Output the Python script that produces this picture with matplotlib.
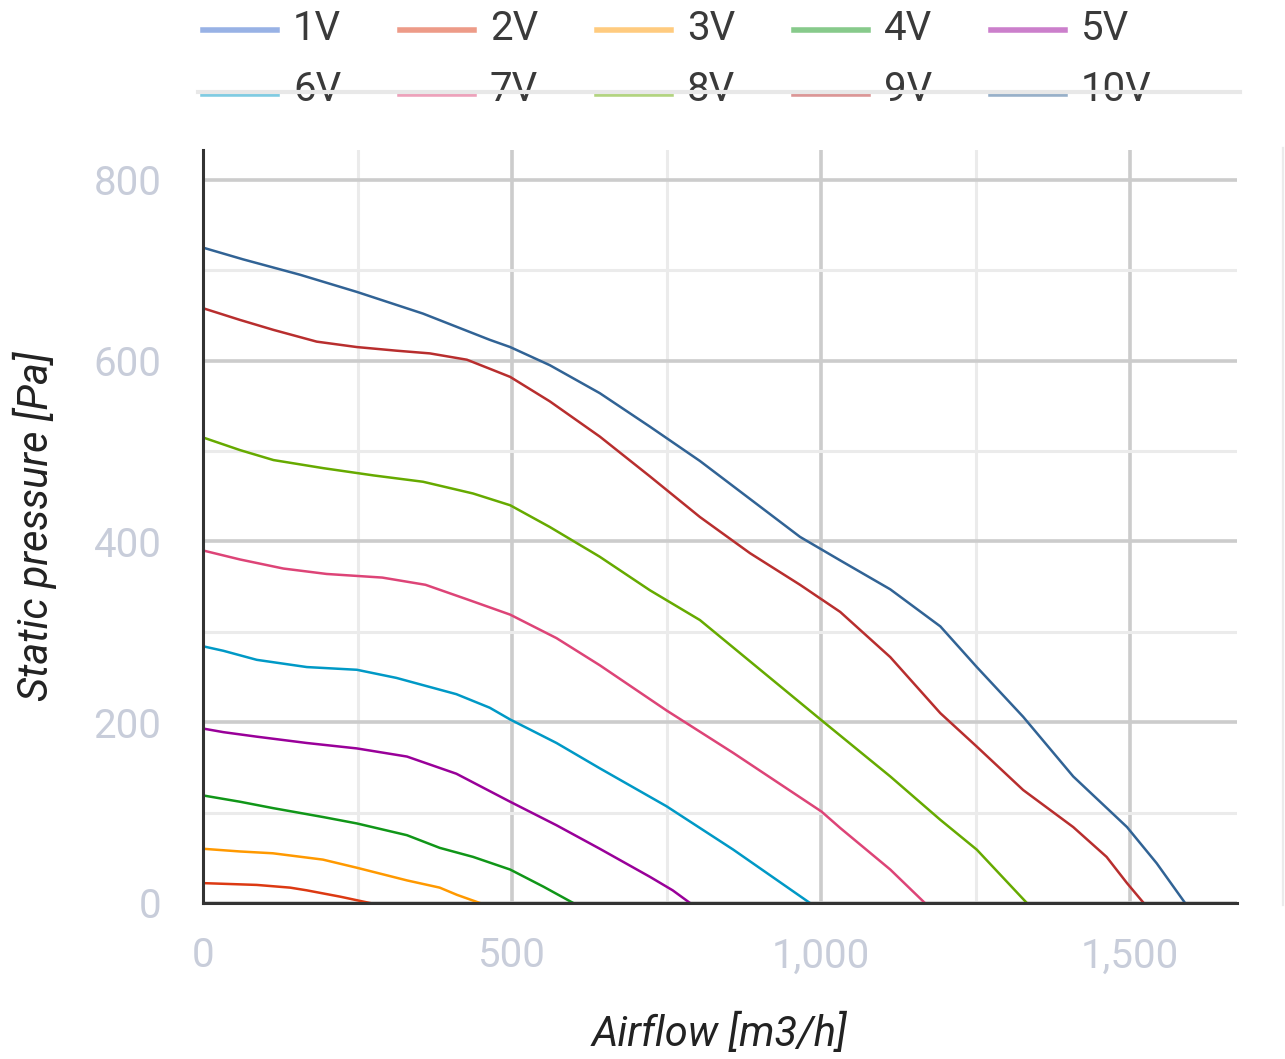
import numpy as np
import matplotlib.pyplot as plt
from matplotlib.lines import Line2D
from matplotlib.ticker import FuncFormatter, MultipleLocator

plt.rcParams['font.family'] = ['Roboto', 'DejaVu Sans']

labels = ["1V", "2V", "3V", "4V", "5V", "6V", "7V", "8V", "9V", "10V"]
colors = ["#3366cc", "#dc3912", "#ff9900", "#109618", "#990099",
          "#0099c6", "#dd4477", "#66aa00", "#b82e2e", "#316395"]

# airflow [m3/h] / static pressure [Pa]
flow_1v = []
pres_1v = []
flow_2v = [0, 87, 141, 168, 222, 270]
pres_2v = [22, 20, 17, 14, 7, 0]
flow_3v = [0, 60, 113, 194, 249, 330, 383, 411, 448]
pres_3v = [60, 57, 55, 48, 39, 25, 17, 9, 0]
flow_4v = [0, 60, 113, 195, 249, 330, 383, 437, 497, 551, 599]
pres_4v = [119, 112, 105, 95, 88, 75, 61, 51, 37, 18, 0]
flow_5v = [0, 33, 87, 168, 249, 330, 410, 497, 572, 642, 723, 760, 788]
pres_5v = [193, 189, 184, 177, 171, 162, 143, 112, 86, 60, 29, 14, 0]
flow_6v = [0, 33, 87, 168, 249, 313, 356, 410, 464, 497, 572, 642, 750, 858, 982]
pres_6v = [284, 279, 269, 261, 258, 249, 241, 231, 216, 203, 177, 149, 107, 59, 0]
flow_7v = [0, 60, 130, 200, 290, 360, 427, 497, 572, 642, 750, 858, 1001, 1031, 1112, 1168]
pres_7v = [390, 380, 370, 364, 360, 352, 336, 319, 293, 263, 213, 166, 101, 83, 37, 0]
flow_8v = [0, 60, 114, 195, 276, 356, 437, 497, 561, 642, 723, 804, 1001, 1112, 1193, 1252, 1333]
pres_8v = [515, 501, 490, 481, 473, 466, 453, 440, 416, 383, 346, 313, 202, 140, 92, 59, 0]
flow_9v = [0, 60, 114, 184, 249, 313, 367, 427, 464, 497, 561, 642, 723, 804, 885, 966,
           1031, 1112, 1193, 1252, 1327, 1408, 1462, 1495, 1522]
pres_9v = [658, 645, 634, 621, 615, 611, 608, 601, 591, 582, 555, 516, 472, 427, 387, 352,
           322, 272, 210, 173, 125, 84, 51, 22, 0]
flow_10v = [0, 65, 157, 249, 356, 464, 497, 561, 642, 723, 804, 885, 966, 1031, 1112, 1193,
            1252, 1327, 1408, 1495, 1543, 1589]
pres_10v = [725, 712, 695, 676, 652, 623, 615, 595, 564, 527, 489, 447, 405, 379, 347, 306,
            261, 206, 140, 84, 44, 0]

flows = [flow_1v, flow_2v, flow_3v, flow_4v, flow_5v, flow_6v, flow_7v, flow_8v, flow_9v, flow_10v]
pressures = [pres_1v, pres_2v, pres_3v, pres_4v, pres_5v, pres_6v, pres_7v, pres_8v, pres_9v, pres_10v]

W, H = 1285, 1059
fig = plt.figure(figsize=(W / 100, H / 100), dpi=100)
ax = fig.add_axes([203 / W, 1 - 903 / H, (1237 - 203) / W, (903 - 150) / H])

for fl, pr, c in zip(flows, pressures, colors):
    ax.plot(fl, pr, color=c, lw=1.8, solid_joinstyle='round', zorder=3)

ax.set_xlim(0, 1673)
ax.set_ylim(0, 833)
ax.xaxis.set_major_locator(MultipleLocator(500))
ax.xaxis.set_minor_locator(MultipleLocator(250))
ax.yaxis.set_major_locator(MultipleLocator(200))
ax.yaxis.set_minor_locator(MultipleLocator(100))
ax.xaxis.set_major_formatter(FuncFormatter(lambda v, p: f"{int(v):,}"))
ax.grid(which='major', color='#cccccc', lw=2.6)
ax.grid(which='minor', color='#ebebeb', lw=2.2)
ax.set_axisbelow(True)
ax.tick_params(which='both', length=0)
ax.tick_params(axis='y', pad=30, labelsize=29, labelcolor='#c8cdda')
ax.tick_params(axis='x', pad=24, labelsize=29, labelcolor='#c8cdda')
for s in ['top', 'right']:
    ax.spines[s].set_visible(False)
for s in ['left', 'bottom']:
    ax.spines[s].set_color('#333333')
    ax.spines[s].set_linewidth(2.2)
    ax.spines[s].set_zorder(4)

ax.set_xlabel("Airflow [m3/h]", fontsize=30, style='italic', color='#222222', labelpad=28)
ax.set_ylabel("Static pressure [Pa]", fontsize=30, style='italic', color='#222222', labelpad=26)

# legend, two rows of five
for i, (lab, c) in enumerate(zip(labels, colors)):
    row, col = divmod(i, 5)
    x0 = 203 + col * 197
    yl = 30 if row == 0 else 94
    yt = 28 if row == 0 else 90
    fig.add_artist(Line2D([x0 / W, (x0 + 74) / W], [1 - yl / H, 1 - yl / H],
                          color=c, alpha=0.5, lw=4, transform=fig.transFigure))
    fig.text((x0 + 90) / W, 1 - yt / H, lab, fontsize=29, color='#3a3a3a',
             va='center', ha='left')

fig.add_artist(Line2D([198 / W, 1240 / W], [1 - 92 / H, 1 - 92 / H],
                      color='#e8e8e8', lw=3, transform=fig.transFigure, zorder=5))
fig.add_artist(Line2D([1283 / W, 1283 / W], [1 - 148 / H, 1 - 905 / H],
                      color='#ebebeb', lw=1.6, transform=fig.transFigure))

fig.savefig("out.png", dpi=100)
